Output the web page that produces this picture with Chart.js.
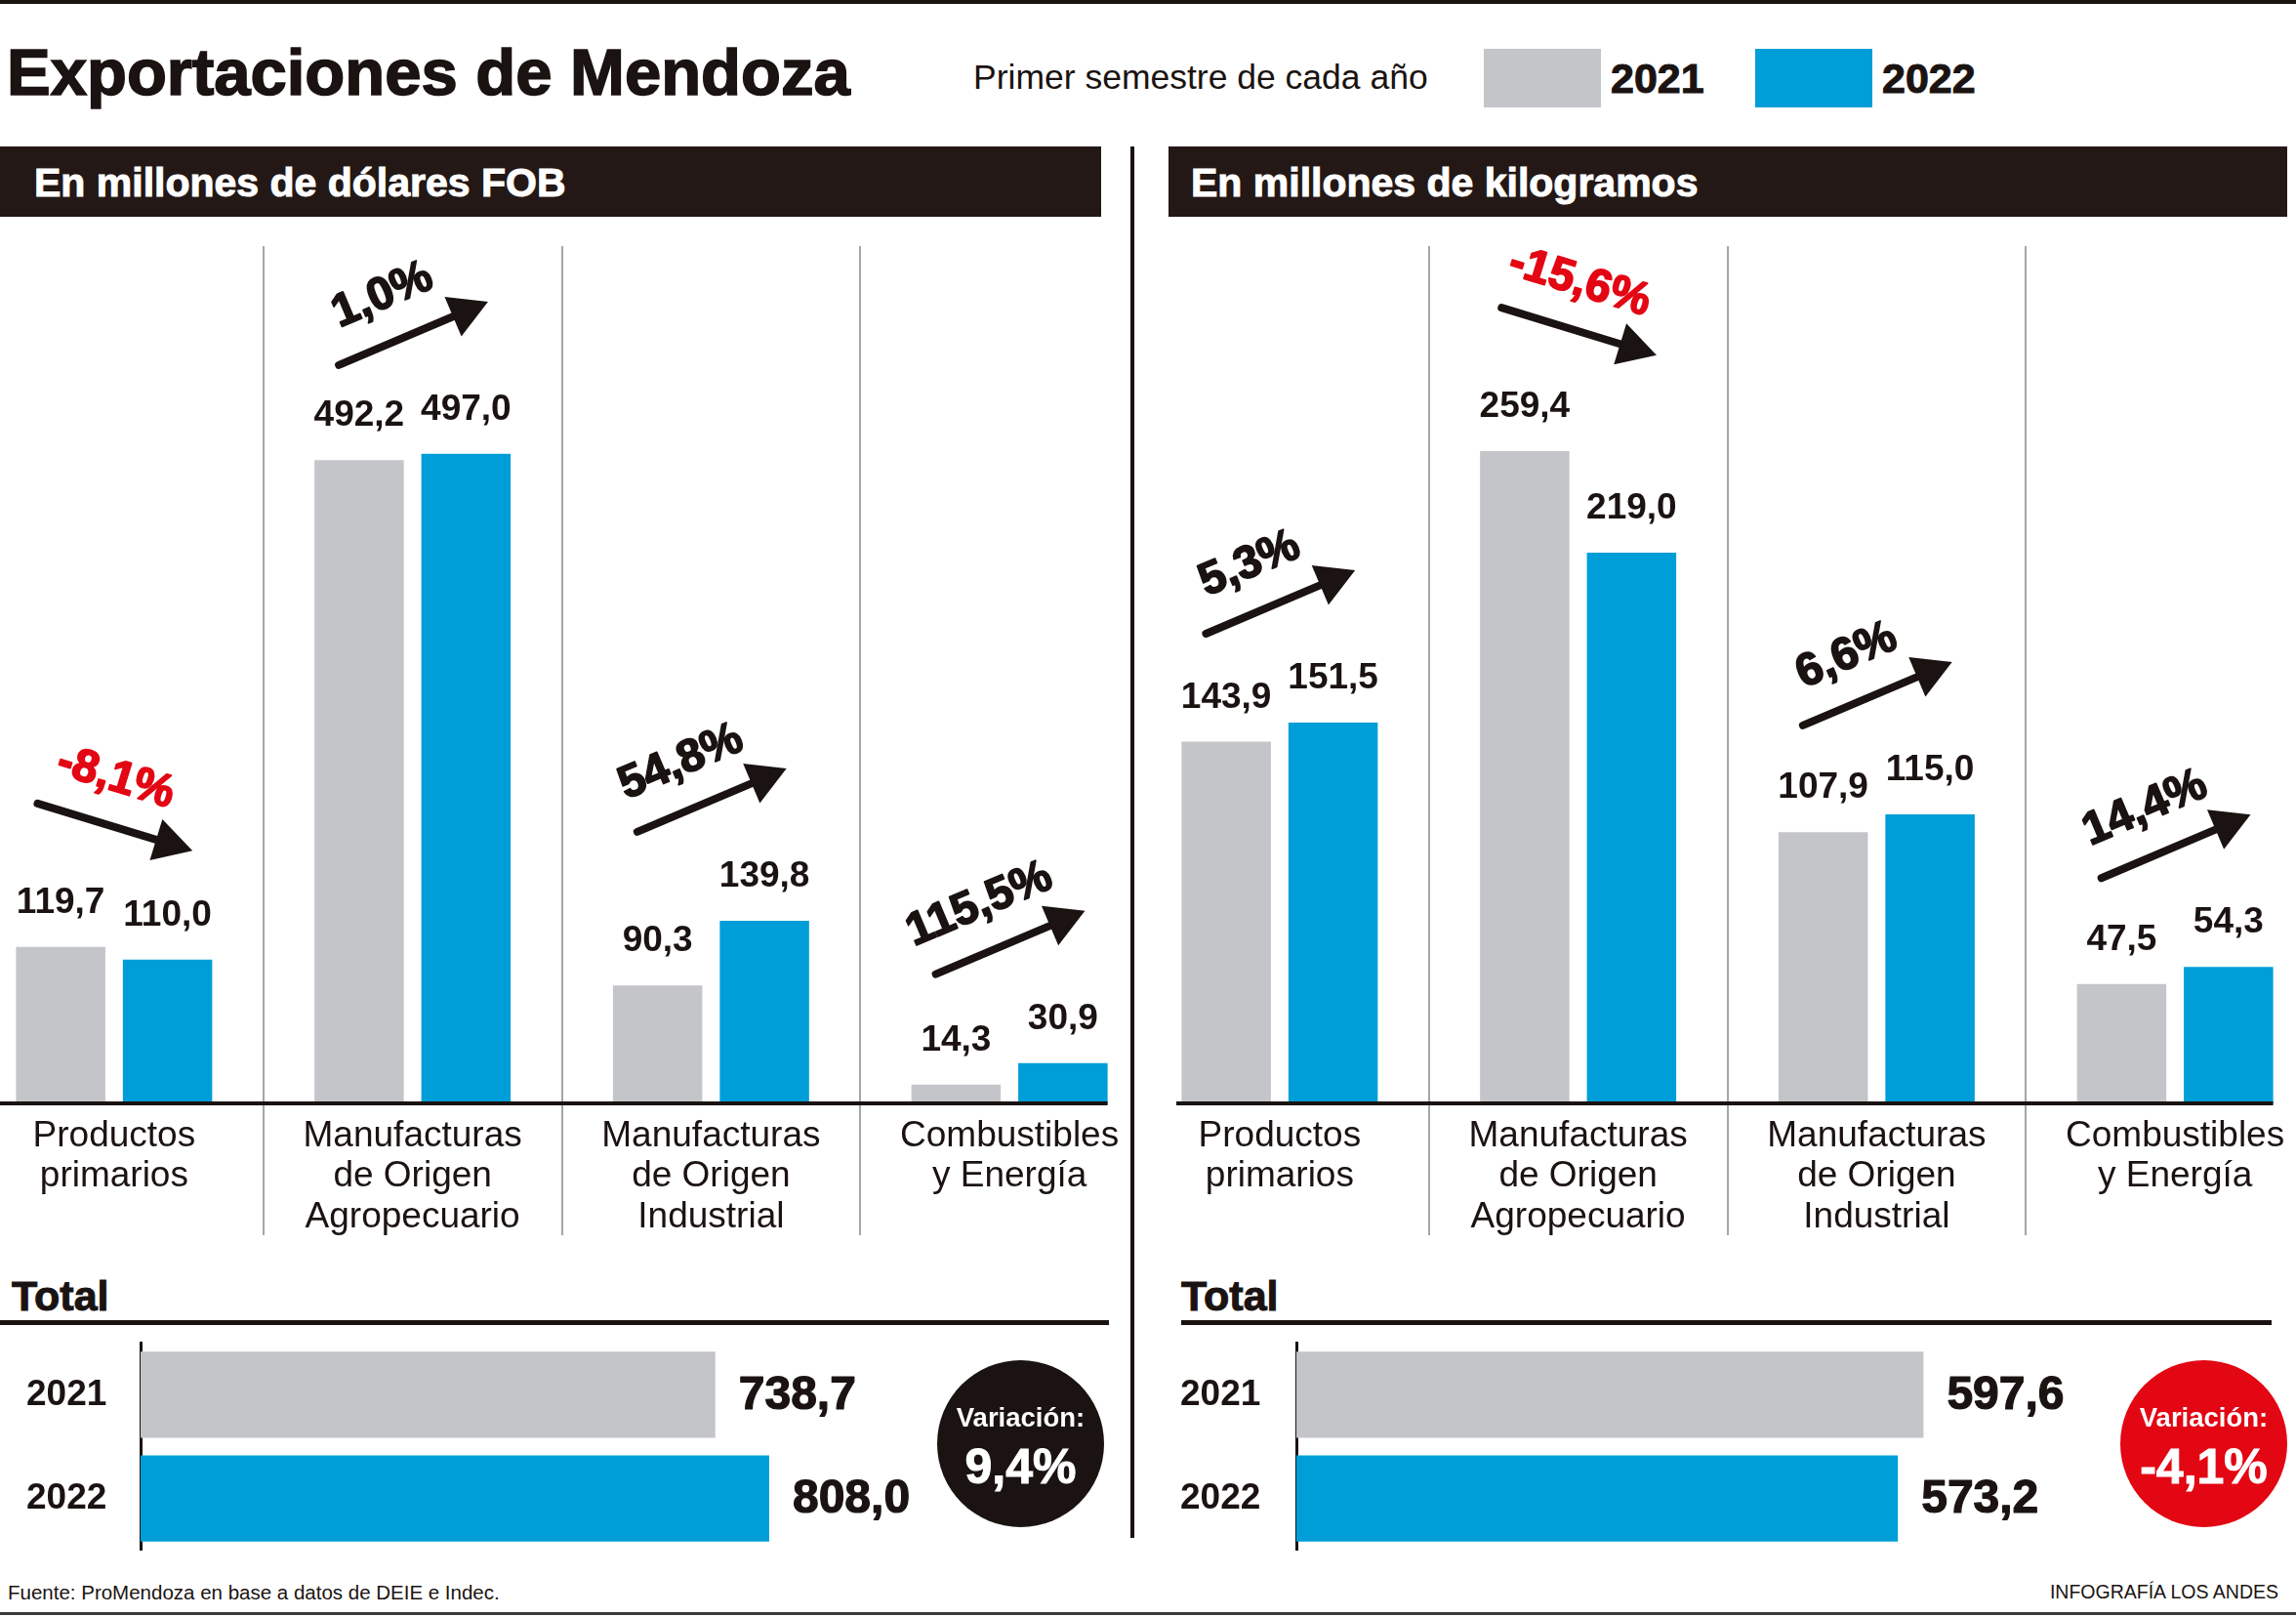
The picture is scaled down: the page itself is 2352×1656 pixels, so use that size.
<!DOCTYPE html>
<html lang="es">
<head>
<meta charset="utf-8">
<title>Exportaciones de Mendoza</title>
<script src="https://cdn.jsdelivr.net/npm/chart.js@4.4.1/dist/chart.umd.min.js"></script>
<style>
  body { margin: 0; background: #fff; }
  #lienzo { position: relative; width: 2352px; height: 1656px; overflow: hidden; background: #fff;
    font-family: 'Liberation Sans', Arial, sans-serif; color: #1a1311; }
  .abs { position: absolute; }
  .txt { position: absolute; white-space: nowrap; line-height: 1; transform: translateY(-50%); }
  .bold { font-weight: bold; }
  .grueso { -webkit-text-stroke: 1.6px currentColor; }
  .circulo { position: absolute; border-radius: 50%; color: #fff; text-align: center; font-weight: bold; }
</style>
</head>
<body>
<div id="lienzo">
  <!-- filetes -->
  <div class="abs" style="left:0;top:0;width:2352px;height:4px;background:#1a1311"></div>
  <div class="abs" style="left:0;top:1651px;width:2352px;height:3px;background:#3a3a3a"></div>

  <!-- titulo y leyenda -->
  <div class="txt bold grueso" style="left:7px;top:73px;font-size:67px">Exportaciones de Mendoza</div>
  <div class="txt" style="left:997px;top:80px;font-size:35.5px">Primer semestre de cada año</div>
  <div id="leyenda"></div>

  <!-- cabeceras de paneles -->
  <div class="abs" style="left:0;top:150px;width:1128px;height:72px;background:#231815"></div>
  <div class="txt bold grueso" style="left:35px;top:187px;font-size:41px;color:#fff;-webkit-text-stroke-width:1px">En millones de dólares FOB</div>
  <div class="abs" style="left:1197px;top:150px;width:1146px;height:72px;background:#231815"></div>
  <div class="txt bold grueso" style="left:1220px;top:187px;font-size:41px;color:#fff;-webkit-text-stroke-width:1px">En millones de kilogramos</div>
  <div class="abs" style="left:1158px;top:150px;width:4px;height:1425px;background:#1a1311"></div>

  <!-- graficos de barras -->
  <canvas id="chartDolares" class="abs" width="1223" height="1120" style="left:-36px;top:152px"></canvas>
  <canvas id="chartKilos" class="abs" width="1223" height="1120" style="left:1158px;top:152px"></canvas>

  <!-- totales -->
  <div class="txt bold grueso" style="left:12px;top:1327px;font-size:43px;-webkit-text-stroke-width:1px">Total</div>
  <div class="abs" style="left:0;top:1352px;width:1136px;height:5px;background:#1a1311"></div>
  <div class="txt bold grueso" style="left:1210px;top:1327px;font-size:43px;-webkit-text-stroke-width:1px">Total</div>
  <div class="abs" style="left:1210px;top:1352px;width:1117px;height:5px;background:#1a1311"></div>

  <canvas id="totalDolares" class="abs" width="1117" height="263" style="left:27px;top:1350px"></canvas>
  <canvas id="totalKilos" class="abs" width="1119" height="263" style="left:1209px;top:1350px"></canvas>

  <div id="circuloDolares" class="circulo" style="left:960px;top:1393px;width:171px;height:171px;background:#1a1311"></div>
  <div id="circuloKilos" class="circulo" style="left:2172px;top:1393px;width:171px;height:171px;background:#e30613"></div>

  <!-- pie -->
  <div class="txt" style="left:8px;top:1631px;font-size:20.5px">Fuente: ProMendoza en base a datos de DEIE e Indec.</div>
  <div class="txt" style="right:18px;top:1631px;font-size:19.5px">INFOGRAFÍA LOS ANDES</div>
</div>

<script>
// Datos (primer semestre de cada año)
const categorias = [
  ['Productos', 'primarios'],
  ['Manufacturas', 'de Origen', 'Agropecuario'],
  ['Manufacturas', 'de Origen', 'Industrial'],
  ['Combustibles', 'y Energía']
];
const anios = ['2021', '2022'];

// En millones de dólares FOB
const dolares2021 = [119.7, 492.2, 90.3, 14.3];
const dolares2022 = [110.0, 497.0, 139.8, 30.9];
const variacionDolares = ['-8,1%', '1,0%', '54,8%', '115,5%'];

// En millones de kilogramos
const kilos2021 = [143.9, 259.4, 107.9, 47.5];
const kilos2022 = [151.5, 219.0, 115.0, 54.3];
const variacionKilos = ['5,3%', '-15,6%', '6,6%', '14,4%'];

// Totales
const totalDolares = [738.7, 808.0];
const totalKilos = [597.6, 573.2];
const variacionTotal = ['9,4%', '-4,1%'];

const GRIS = '#c4c5c9';
const AZUL = '#009ed8';
const NEGRO = '#1a1311';
const ROJO = '#e30613';
const FUENTE = "'Liberation Sans', Arial, sans-serif";

function formatoComa(v) {
  return v.toFixed(1).replace('.', ',');
}

// Leyenda
const leyenda = document.getElementById('leyenda');
[GRIS, AZUL].forEach((color, i) => {
  const x = 1520 + i * 278;
  leyenda.innerHTML += `<div class="abs" style="left:${x}px;top:50px;width:120px;height:60px;background:${color}"></div>` +
    `<div class="txt bold grueso" style="left:${x + 130}px;top:80px;font-size:43px;-webkit-text-stroke-width:1px">${anios[i]}</div>`;
});

// Círculos de variación total
function llenarCirculo(id, texto) {
  document.getElementById(id).innerHTML =
    `<div class="txt" style="left:0;width:100%;top:59px;font-size:27.5px">Variación:</div>` +
    `<div class="txt grueso" style="left:0;width:100%;top:109px;font-size:50px;-webkit-text-stroke-width:1px">${texto}</div>`;
}
llenarCirculo('circuloDolares', variacionTotal[0]);
llenarCirculo('circuloKilos', variacionTotal[1]);

// Texto con trazo extra para imitar la tipografía negra del original
function textoGrueso(ctx, texto, x, y, grosor) {
  ctx.lineWidth = grosor;
  ctx.lineJoin = 'round';
  ctx.strokeStyle = ctx.fillStyle;
  ctx.strokeText(texto, x, y);
  ctx.fillText(texto, x, y);
}

// Etiquetas de valor sobre cada barra y línea de base
const etiquetasBarras = {
  id: 'etiquetasBarras',
  afterDatasetsDraw(chart, args, opts) {
    const ctx = chart.ctx;
    const ultimas = chart.getDatasetMeta(chart.data.datasets.length - 1).data;
    const fin = ultimas[ultimas.length - 1];
    ctx.save();
    ctx.fillStyle = NEGRO;
    ctx.fillRect(opts.desde, chart.chartArea.bottom - 2, fin.x + fin.width / 2 - opts.desde, 4);
    ctx.font = 'bold 37px ' + FUENTE;
    ctx.textAlign = 'center';
    ctx.textBaseline = 'middle';
    chart.data.datasets.forEach((ds, d) => {
      chart.getDatasetMeta(d).data.forEach((bar, i) => {
        ctx.fillText(formatoComa(ds.data[i]), bar.x, bar.y - 45);
      });
    });
    ctx.restore();
  }
};

// Flechas con el porcentaje de variación
const flechas = {
  id: 'flechas',
  afterDatasetsDraw(chart, args, opts) {
    const ctx = chart.ctx;
    const xScale = chart.scales.x;
    const m0 = chart.getDatasetMeta(0).data;
    const m1 = chart.getDatasetMeta(1).data;
    opts.textos.forEach((texto, i) => {
      const baja = texto.startsWith('-');
      const cx = xScale.getPixelForValue(i);
      const cy = Math.min(m0[i].y, m1[i].y) - 123;
      const ang = (baja ? 17 : -23) * Math.PI / 180;
      ctx.save();
      ctx.translate(cx, cy);
      ctx.rotate(ang);
      ctx.strokeStyle = NEGRO;
      ctx.fillStyle = NEGRO;
      ctx.lineWidth = 8;
      ctx.lineCap = 'round';
      ctx.beginPath();
      ctx.moveTo(-82, 0);
      ctx.lineTo(50, 0);
      ctx.stroke();
      ctx.beginPath();
      ctx.moveTo(84, 0);
      ctx.lineTo(45, -22);
      ctx.lineTo(45, 22);
      ctx.closePath();
      ctx.fill();
      ctx.font = 'bold 47px ' + FUENTE;
      ctx.fillStyle = baja ? ROJO : NEGRO;
      ctx.textAlign = 'center';
      ctx.textBaseline = 'middle';
      textoGrueso(ctx, texto, -13, -48, 1.8);
      ctx.restore();
    });
  }
};

function crearBarras(id, datos2021, datos2022, variaciones, maxY, desde) {
  return new Chart(document.getElementById(id), {
    type: 'bar',
    data: {
      labels: categorias,
      datasets: [
        { label: anios[0], data: datos2021, backgroundColor: GRIS },
        { label: anios[1], data: datos2022, backgroundColor: AZUL }
      ]
    },
    options: {
      responsive: false,
      animation: false,
      layout: { padding: { top: 100 } },
      datasets: { bar: { categoryPercentage: 0.716, barPercentage: 0.836, borderWidth: 0 } },
      plugins: {
        legend: { display: false },
        tooltip: { enabled: false },
        flechas: { textos: variaciones },
        etiquetasBarras: { desde: desde }
      },
      scales: {
        x: {
          grid: {
            offset: true,
            lineWidth: 2,
            tickLength: 135,
            color: c => (c.type !== 'tick' || c.index === 0) ? 'rgba(0,0,0,0)' : '#a6a6a6'
          },
          border: { display: false },
          ticks: {
            autoSkip: false,
            maxRotation: 0,
            padding: -122,
            color: NEGRO,
            font: { family: FUENTE, size: 37, lineHeight: '41.5px' }
          },
          afterFit: s => { s.height = 142; }
        },
        y: { display: false, min: 0, max: maxY }
      }
    },
    plugins: [etiquetasBarras, flechas]
  });
}

crearBarras('chartDolares', dolares2021, dolares2022, variacionDolares, 656, 36);
crearBarras('chartKilos', kilos2021, kilos2022, variacionKilos, 341, 47);

// Etiquetas a la derecha de las barras totales
const etiquetasTotales = {
  id: 'etiquetasTotales',
  afterDatasetsDraw(chart) {
    const ctx = chart.ctx;
    ctx.save();
    ctx.font = 'bold 48px ' + FUENTE;
    ctx.fillStyle = NEGRO;
    ctx.textAlign = 'left';
    ctx.textBaseline = 'middle';
    chart.getDatasetMeta(0).data.forEach((bar, i) => {
      textoGrueso(ctx, formatoComa(chart.data.datasets[0].data[i]), bar.x + 24, bar.y + 1, 1.2);
    });
    ctx.restore();
  }
};

function crearTotal(id, datos, maxX, anchoEje) {
  return new Chart(document.getElementById(id), {
    type: 'bar',
    data: {
      labels: anios,
      datasets: [{ data: datos, backgroundColor: [GRIS, AZUL], borderWidth: 0,
        categoryPercentage: 1, barPercentage: 0.831 }]
    },
    options: {
      indexAxis: 'y',
      responsive: false,
      animation: false,
      plugins: { legend: { display: false }, tooltip: { enabled: false } },
      scales: {
        x: { display: false, min: 0, max: maxX },
        y: {
          grid: { display: false },
          border: { display: true, color: NEGRO, width: 3 },
          ticks: {
            crossAlign: 'far',
            color: NEGRO,
            font: { family: FUENTE, size: 37, weight: 'bold' }
          },
          afterFit: s => { s.width = anchoEje; }
        }
      }
    },
    plugins: [etiquetasTotales]
  });
}

crearTotal('totalDolares', totalDolares, 1000 / 0.797, 117);
crearTotal('totalKilos', totalKilos, 1000 / 1.075, 119);
</script>
</body>
</html>
